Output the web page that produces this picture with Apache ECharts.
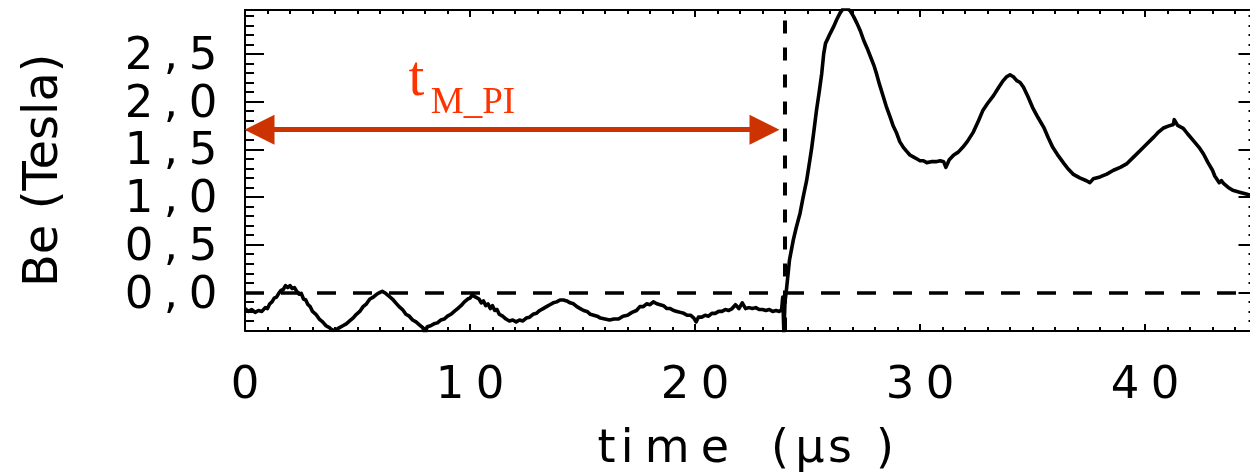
<!DOCTYPE html>
<html>
<head>
<meta charset="utf-8">
<script src="https://cdn.jsdelivr.net/npm/echarts@6/dist/echarts.min.js"></script>
<style>
html,body{margin:0;padding:0;background:#fff;}
#chart{width:1250px;height:475px;}
</style>
</head>
<body>
<div id="chart"></div>
<script>
// ---- data ----
const timeUs = [
  0.0,0.15,0.3,0.45,0.6,0.75,0.9,1.0,1.1,1.2,1.3,1.4,1.5,1.6,1.7,1.8,1.9,2.0,2.1,2.2,2.3,2.4,2.5,2.6,2.7,2.8,2.9,3.0,
  3.15,3.3,3.45,3.6,3.75,3.9,4.05,4.2,4.35,4.5,4.65,4.8,4.95,5.1,5.25,5.4,5.55,5.7,5.85,6.0,6.1,6.25,6.4,6.55,6.7,6.85,
  7.0,7.15,7.3,7.45,7.6,7.75,7.9,8.0,8.1,8.25,8.4,8.55,8.7,8.85,9.0,9.15,9.3,9.45,9.6,9.75,9.9,10.0,10.1,10.25,10.4,10.5,
  10.6,10.7,10.8,10.9,11.0,11.1,11.2,11.3,11.45,11.6,11.75,11.9,12.05,12.2,12.35,12.5,12.65,12.8,12.95,13.1,13.25,13.4,
  13.55,13.7,13.85,14.0,14.15,14.3,14.45,14.6,14.75,14.9,15.05,15.2,15.35,15.5,15.65,15.8,16.0,16.2,16.4,16.6,16.8,17.0,
  17.2,17.4,17.55,17.7,17.85,18.0,18.15,18.3,18.45,18.6,18.75,18.9,19.05,19.2,19.35,19.5,19.65,19.8,19.95,20.05,20.15,
  20.3,20.45,20.6,20.75,20.9,21.05,21.2,21.35,21.5,21.65,21.8,21.95,22.1,22.25,22.4,22.55,22.7,22.85,23.0,23.15,23.3,
  23.45,23.6,23.75,23.85,23.9,23.95,24.0,24.07,24.2,24.37,24.5,24.67,24.8,24.96,25.1,25.19,25.3,25.4,25.52,25.63,25.72,
  25.8,25.9,26.0,26.15,26.3,26.45,26.6,26.75,26.9,27.05,27.2,27.35,27.5,27.65,27.8,27.95,28.07,28.2,28.37,28.5,28.67,
  28.8,28.96,29.1,29.26,29.4,29.55,29.7,29.85,30.0,30.15,30.3,30.5,30.7,30.9,31.05,31.15,31.3,31.5,31.7,31.9,32.1,32.37,
  32.6,32.8,33.0,33.26,33.5,33.7,33.85,34.0,34.15,34.3,34.45,34.6,34.8,35.0,35.25,35.5,35.7,35.9,36.15,36.4,36.6,36.8,
  37.1,37.4,37.55,37.7,38.0,38.3,38.6,38.9,39.2,39.5,39.8,40.1,40.4,40.6,40.8,41.0,41.26,41.3,41.45,41.7,41.9,42.15,
  42.4,42.6,42.8,43.0,43.1,43.3,43.4,43.5,43.7,43.9,44.2,44.5,44.8,45.0
];
const beTesla = [
  -0.17,-0.20,-0.18,-0.21,-0.19,-0.20,-0.16,-0.17,-0.12,-0.10,-0.06,-0.05,-0.01,0.02,0.03,0.07,0.05,0.07,0.04,0.05,0.01,-0.02,-0.01,-0.07,-0.08,-0.13,-0.15,-0.20,
  -0.23,-0.28,-0.31,-0.35,-0.37,-0.40,-0.39,-0.37,-0.35,-0.33,-0.30,-0.27,-0.23,-0.20,-0.15,-0.12,-0.07,-0.05,-0.02,0.00,0.01,-0.01,-0.04,-0.07,-0.11,-0.15,
  -0.18,-0.23,-0.25,-0.29,-0.31,-0.34,-0.37,-0.43,-0.36,-0.35,-0.33,-0.32,-0.29,-0.28,-0.25,-0.23,-0.20,-0.17,-0.14,-0.10,-0.07,-0.06,-0.03,-0.05,-0.07,-0.11,
  -0.09,-0.14,-0.12,-0.17,-0.14,-0.19,-0.18,-0.23,-0.25,-0.28,-0.30,-0.29,-0.31,-0.29,-0.30,-0.27,-0.26,-0.23,-0.22,-0.19,-0.17,-0.15,
  -0.13,-0.11,-0.10,-0.08,-0.08,-0.09,-0.11,-0.12,-0.15,-0.17,-0.19,-0.20,-0.23,-0.24,-0.25,-0.27,-0.28,-0.29,-0.28,-0.28,-0.25,-0.24,
  -0.21,-0.19,-0.15,-0.15,-0.12,-0.13,-0.10,-0.12,-0.13,-0.14,-0.17,-0.17,-0.19,-0.20,-0.21,-0.22,-0.24,-0.24,-0.27,-0.31,-0.26,
  -0.26,-0.24,-0.25,-0.22,-0.22,-0.20,-0.20,-0.18,-0.19,-0.17,-0.13,-0.17,-0.11,-0.17,-0.16,-0.17,-0.16,-0.18,-0.18,-0.19,-0.18,
  -0.20,-0.19,-0.20,-0.18,-0.05,-0.42,-0.10,0.04,0.34,0.55,0.68,0.83,0.99,1.17,1.38,1.52,1.72,1.91,2.10,2.29,2.50,
  2.61,2.66,2.71,2.78,2.86,2.93,2.98,2.98,2.95,2.89,2.82,2.74,2.64,2.56,2.47,2.38,2.29,2.18,2.05,1.95,1.84,
  1.75,1.67,1.58,1.52,1.48,1.44,1.42,1.40,1.38,1.38,1.36,1.37,1.37,1.38,1.37,1.31,1.39,1.44,1.47,1.52,1.58,1.68,
  1.80,1.91,1.98,2.06,2.15,2.22,2.26,2.28,2.26,2.22,2.20,2.15,2.05,1.94,1.83,1.73,1.62,1.52,1.43,1.35,1.29,1.24,
  1.20,1.17,1.15,1.19,1.21,1.24,1.28,1.31,1.35,1.42,1.49,1.56,1.63,1.68,1.72,1.74,1.76,1.81,1.75,1.72,1.66,1.59,
  1.52,1.45,1.36,1.28,1.22,1.15,1.17,1.14,1.10,1.07,1.05,1.03,1.01,0.99
];
const xRange = [0, 45];
const yRange = [-0.4, 2.96];
const xAxisTitle = 'time (µs)';
const yAxisTitle = 'Be (Tesla)';
const riseTime = 24.0;          // vertical dashed line
const baseLevel = 0;            // horizontal dashed line
const arrowLevel = 1.705;       // t_M_PI arrow height (Tesla)
const arrowSpan = [0.644, 23.09]; // arrow symbol centres (µs)
const labelMain = 't';
const labelSub = 'M_PI';
const labelMainPos = [7.62, 2.224];
const labelSubPos = [10.13, 1.986];

// ---- styling ----
const FONT = 'DejaVu Sans';
const digitRich = {
  d: {fontFamily: FONT, fontSize: 45, color: '#000', width: 40, align: 'center'},
  c: {fontFamily: FONT, fontSize: 45, color: '#000', width: 24, align: 'center'}
};
function spacedNumber(s) {
  return s.split('').map(ch => (ch === ',' ? '{c|' + ch + '}' : '{d|' + ch + '}')).join('');
}
const titleWidths = [20, 21.2, 58.8, 36.6, 34.7, 24, 36, 24, 66];
const xNameRich = {};
let xName = '';
xAxisTitle.split('').forEach((ch, i) => {
  xNameRich['n' + i] = {fontFamily: FONT, fontSize: 46, color: '#000', width: titleWidths[i], align: 'center'};
  xName += '{n' + i + '|' + ch + '}';
});

const black = {color: '#000', width: 2};
function xAx(pos, interval, tickLen, withLine, withLabel) {
  const a = {
    type: 'value', position: pos, min: xRange[0], max: xRange[1], interval: interval,
    splitLine: {show: false},
    axisLine: {show: withLine, onZero: false, lineStyle: black},
    axisTick: {show: true, inside: true, length: tickLen, lineStyle: {color: '#000', width: 2}},
    axisLabel: {show: false}
  };
  if (withLabel) {
    a.axisLabel = {show: true, margin: 33, showMaxLabel: false,
      formatter: v => spacedNumber(String(v)), rich: digitRich};
    a.name = xName;
    a.nameLocation = 'middle';
    a.nameGap = 97;
    a.nameTextStyle = {rich: xNameRich, padding: [0, 0, 0, 12]};
  }
  return a;
}
function yAx(pos, minor, withLabel) {
  const a = {
    type: 'value', position: pos, min: yRange[0], max: yRange[1],
    splitLine: {show: false},
    axisLine: {show: !minor, onZero: false, lineStyle: black},
    axisTick: {show: true, inside: true, length: minor ? 9 : 19, lineStyle: {color: '#000', width: 2}},
    axisLabel: {show: false}
  };
  if (minor) a.interval = 0.1; else a.splitNumber = 7;
  if (withLabel) {
    a.axisLabel = {show: true, margin: 22, showMinLabel: false, showMaxLabel: false,
      padding: [7, 0, 0, 0],
      formatter: v => spacedNumber(v.toFixed(1).replace('.', ',')), rich: digitRich};
    a.name = yAxisTitle;
    a.nameLocation = 'middle';
    a.nameRotate = 90;
    a.nameGap = 176;
    a.nameTextStyle = {fontFamily: FONT, fontSize: 48, color: '#000'};
  }
  return a;
}

const chart = echarts.init(document.getElementById('chart'), null, {renderer: 'canvas'});
chart.setOption({
  animation: false,
  backgroundColor: '#fff',
  grid: {left: 245, right: -7.5, top: 10, bottom: 144.5, containLabel: false, outerBoundsMode: 'none'},
  xAxis: [
    xAx('bottom', 10, 6.5, true, true),
    xAx('bottom', 1, 3.5, false, false),
    xAx('top', 10, 7, true, false),
    xAx('top', 1, 4, false, false)
  ],
  yAxis: [
    yAx('left', false, true),
    yAx('left', true, false),
    yAx('right', false, false),
    yAx('right', true, false)
  ],
  series: [{
    type: 'line',
    xAxisIndex: 0, yAxisIndex: 0,
    data: timeUs.map((t, i) => [t, beTesla[i]]),
    showSymbol: false, symbol: 'none',
    lineStyle: {color: '#000', width: 3.6, join: 'round'},
    clip: true,
    silent: true,
    markLine: {
      silent: true, symbol: 'none', label: {show: false}, animation: false,
      data: [
        {yAxis: baseLevel, lineStyle: {color: '#000', width: 3.5, type: [19, 17]}},
        {xAxis: riseTime, lineStyle: {color: '#000', width: 4, type: [13, 14]}},
        [
          {coord: [arrowSpan[0], arrowLevel], symbol: 'triangle', symbolSize: 30,
            lineStyle: {color: '#cc3300', width: 5, type: 'solid'}, itemStyle: {color: '#cc3300'}},
          {coord: [arrowSpan[1], arrowLevel], symbol: 'triangle', symbolSize: 30, itemStyle: {color: '#cc3300'}}
        ]
      ]
    },
    markPoint: {
      silent: true, symbol: 'circle', symbolSize: 1, itemStyle: {color: 'rgba(0,0,0,0)'}, animation: false,
      data: [
        {coord: labelMainPos, value: labelMain,
          label: {show: true, position: 'inside', formatter: labelMain, fontFamily: 'Liberation Serif', fontSize: 57, color: '#ff3300'}},
        {coord: labelSubPos, value: labelSub,
          label: {show: true, position: 'inside', formatter: labelSub, fontFamily: 'Liberation Serif', fontSize: 37, color: '#ff3300'}}
      ]
    }
  }]
});
</script>
</body>
</html>
